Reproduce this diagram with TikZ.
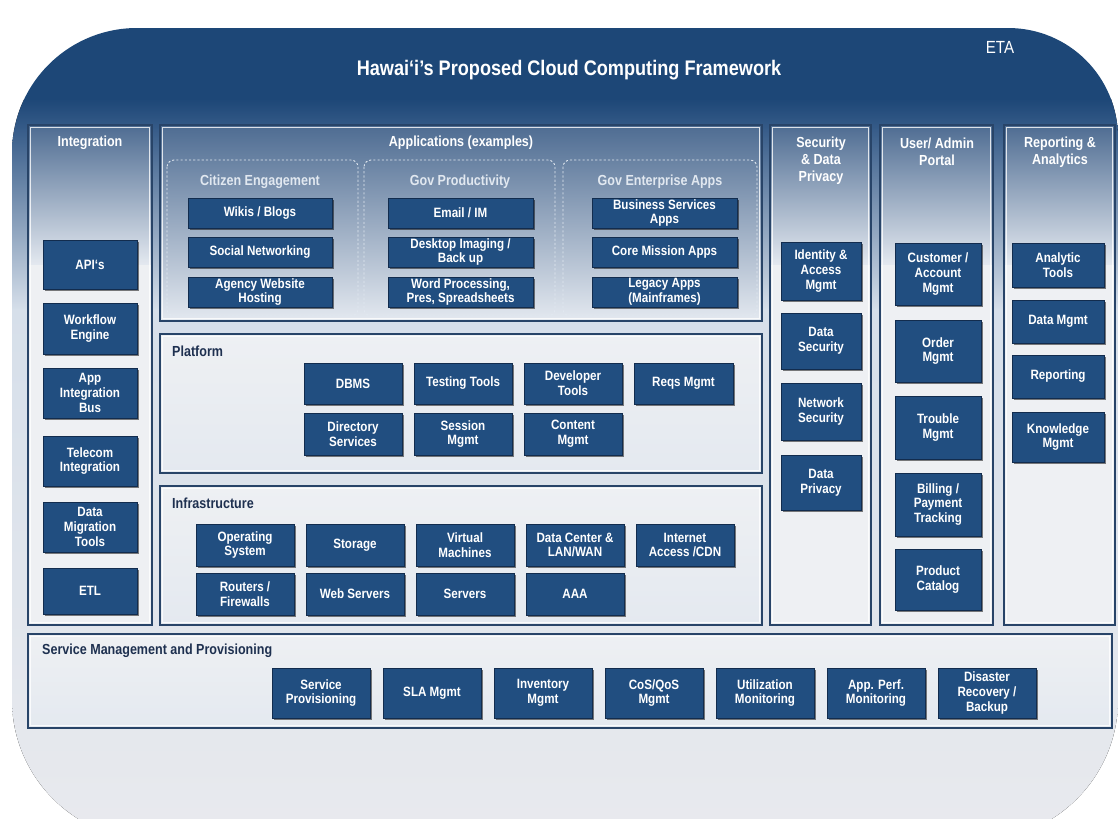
\documentclass[tikz,border=0pt]{standalone}
\usepackage{fontspec}
\setmainfont{Liberation Sans}[FakeStretch=0.86]
\usetikzlibrary{shadows}

\definecolor{boxblue}{RGB}{33,78,128}
\definecolor{boxedge}{RGB}{18,44,78}
\definecolor{boxhi}{RGB}{125,155,195}
\definecolor{headblue}{RGB}{29,71,119}
\definecolor{midblue}{RGB}{55,92,137}
\definecolor{paleblue}{RGB}{214,223,234}
\definecolor{bglight}{RGB}{233,234,238}
\definecolor{paneltop}{RGB}{78,108,146}
\definecolor{panelfade}{RGB}{228,233,240}
\definecolor{panellight}{RGB}{238,240,243}
\definecolor{panelborder}{RGB}{40,68,104}
\definecolor{navytext}{RGB}{30,48,80}
\definecolor{groupline}{RGB}{225,232,240}

\newcommand\boxfont{\fontsize{7.7}{8.4}\selectfont\bfseries}
\newcommand\headfont{\fontsize{8.3}{9.6}\selectfont\bfseries}

\tikzset{
  box/.style={draw=boxedge, line width=0.5pt, fill=boxblue, inner sep=0pt,
    text=white, align=center, font=\boxfont,
    drop shadow={shadow xshift=0.9pt, shadow yshift=-0.9pt, opacity=0.5, fill=black},
    path picture={\draw[boxhi, line width=0.9pt]
      (path picture bounding box.north west) -- (path picture bounding box.north east);}},
  lighthead/.style={text=white, font=\headfont, align=center},
  grouphead/.style={text=groupline, font=\headfont, align=center},
  darkhead/.style={text=navytext, font=\headfont, anchor=west},
  groupframe/.style={draw=groupline, line width=0.5pt, dash pattern=on 1.2pt off 1.2pt,
    rounded corners=4pt},
  paneledge/.style={draw=panelborder, line width=1.3pt},
  panelinner/.style={draw=white, line width=0.5pt, opacity=0.8}
}

% box: name, x1, y1, x2, y2, text
\newcommand\bx[6]{\node[box, minimum width={(#4-#2)*0.02cm}, minimum height={(#5-#3)*0.02cm}]
  (#1) at ({(#2+#4)/2},{(#3+#5)/2}) {#6};}
% panel: x1, y1, x2, y2, end of the top fade, top colour
\newcommand\panel[6]{%
  \fill[top color=#6, bottom color=panelfade] (#1,#2) rectangle (#3,#5);
  \fill[panellight] (#1,#5) rectangle (#3,#4);
  \draw[panelinner] (#1+2.8,#2+2.8) rectangle (#3-2.8,#4-2.8);
  \draw[paneledge] (#1,#2) rectangle (#3,#4);}

\begin{document}
\begin{tikzpicture}[x=0.02cm, y=-0.02cm]
\useasboundingbox (0,0) rectangle (1118,818);
\fill[white] (0,0) rectangle (1118,818);

% rounded backdrop, dark header fading to light grey
\begin{scope}
  \clip (12,153) .. controls (12,84) and (68,28) .. (137,28) -- (1008,28)
    .. controls (1069,28) and (1118,77) .. (1118,138) -- (1118,700)
    .. controls (1118,777) and (1055,840) .. (978,840) -- (152,840)
    .. controls (75,840) and (12,777) .. (12,700) -- cycle;
  \fill[headblue] (0,20) rectangle (1118,100);
  \fill[top color=headblue, bottom color=midblue] (0,99) rectangle (1118,130);
  \fill[top color=midblue, bottom color=paleblue] (0,129) rectangle (1118,310);
  \fill[top color=paleblue, bottom color=bglight] (0,309) rectangle (1118,850);
\end{scope}

\node[text=white, font=\fontsize{12}{14}\selectfont\bfseries] (title) at (569,70)
  {Hawai‘i’s Proposed Cloud Computing Framework};
\node[text=white, font=\fontsize{10}{12}\selectfont] (eta) at (1000,47) {ETA};

% panels
\panel{28}{125}{152}{625}{265}{paneltop}
\panel{160}{125}{762}{321}{321}{paneltop}
\panel{160}{334}{762}{473}{473}{panellight}
\panel{160}{486}{762}{625}{625}{panellight}
\panel{770}{125}{871}{625}{265}{paneltop}
\panel{880}{125}{993}{625}{265}{paneltop}
\panel{1004}{125}{1115}{625}{265}{paneltop}
\panel{28}{634}{1112}{728}{728}{panellight}

% panel headings
\node[lighthead] (hint) at (90,143) {Integration};
\node[lighthead] (happ) at (461,143) {Applications (examples)};
\node[lighthead] (hsec) at (821,161) {Security\\\& Data\\Privacy};
\node[lighthead] (husr) at (937,152) {User/ Admin\\Portal};
\node[lighthead] (hrep) at (1060,152) {Reporting \&\\Analytics};
\node[darkhead] (hplat) at (166,351) {Platform};
\node[darkhead] (hinf) at (166,503) {Infrastructure};
\node[darkhead] (hsvc) at (36,651) {Service Management and Provisioning};

% application groups
\draw[groupframe] (167,160) rectangle (358,316);
\draw[groupframe] (364,160) rectangle (555,316);
\draw[groupframe] (563,160) rectangle (757,316);
\node[grouphead] (gcit) at (260,182) {Citizen Engagement};
\node[grouphead] (gprod) at (460,182) {Gov Productivity};
\node[grouphead] (gent) at (660,182) {Gov Enterprise Apps};

\bx{wiki}{188}{198}{332}{228}{Wikis / Blogs}
\bx{social}{188}{237}{332}{267}{Social Networking}
\bx{agency}{188}{277}{332}{307}{Agency Website\\Hosting}
\bx{email}{388}{198}{533}{228}{Email / IM}
\bx{desktop}{388}{237}{533}{267}{Desktop Imaging /\\Back up}
\bx{word}{388}{277}{533}{307}{Word Processing,\\Pres, Spreadsheets}
\bx{business}{592}{198}{737}{228}{Business Services\\Apps}
\bx{core}{592}{237}{737}{267}{Core Mission  Apps}
\bx{legacy}{592}{277}{737}{307}{Legacy Apps\\(Mainframes)}

% integration
\bx{api}{43}{240}{137}{289}{API`s}
\bx{workflow}{43}{303}{137}{354}{Workflow\\Engine}
\bx{bus}{43}{368}{137}{418}{App\\Integration\\Bus}
\bx{telecom}{43}{436}{137}{486}{Telecom\\Integration}
\bx{migration}{43}{502}{137}{552}{Data\\Migration\\Tools}
\bx{etl}{43}{568}{137}{614}{ETL}

% platform
\bx{dbms}{304}{363}{402}{404}{DBMS}
\bx{testing}{414}{363}{512}{404}{Testing Tools}
\bx{devtools}{524}{363}{622}{404}{Developer\\Tools}
\bx{reqs}{634}{363}{733}{404}{Reqs Mgmt}
\bx{directory}{304}{413}{402}{455}{Directory\\Services}
\bx{session}{414}{413}{512}{455}{Session\\Mgmt}
\bx{content}{524}{413}{622}{455}{Content\\Mgmt}

% infrastructure
\bx{os}{196}{524}{294}{566}{Operating\\System}
\bx{storage}{306}{524}{404}{566}{Storage}
\bx{vm}{416}{524}{514}{566}{Virtual\\Machines}
\bx{datacenter}{526}{524}{624}{566}{Data Center \&\\LAN/WAN}
\bx{internet}{636}{524}{734}{566}{Internet\\Access /CDN}
\bx{routers}{196}{573}{294}{615}{Routers /\\Firewalls}
\bx{web}{306}{573}{404}{615}{Web Servers}
\bx{servers}{416}{573}{514}{615}{Servers}
\bx{aaa}{526}{573}{624}{615}{AAA}

% security
\bx{identity}{781}{242}{861}{300}{Identity \&\\Access\\Mgmt}
\bx{datasec}{781}{313}{861}{369}{Data\\Security}
\bx{netsec}{781}{383}{861}{440}{Network\\Security}
\bx{privacy}{781}{455}{861}{510}{Data\\Privacy}

% user / admin portal
\bx{customer}{895}{243}{981}{305}{Customer /\\Account\\Mgmt}
\bx{order}{895}{320}{981}{382}{Order\\Mgmt}
\bx{trouble}{895}{396}{981}{459}{Trouble\\Mgmt}
\bx{billing}{895}{473}{981}{536}{Billing /\\Payment\\Tracking}
\bx{catalog}{895}{549}{981}{610}{Product\\Catalog}

% reporting
\bx{analytic}{1012}{243}{1104}{287}{Analytic\\Tools}
\bx{datamgmt}{1012}{300}{1104}{343}{Data Mgmt}
\bx{reporting}{1012}{355}{1104}{398}{Reporting}
\bx{knowledge}{1012}{412}{1104}{462}{Knowledge\\Mgmt}

% service management
\bx{provision}{272}{668}{370}{718}{Service\\Provisioning}
\bx{sla}{383}{668}{481}{718}{SLA Mgmt}
\bx{inventory}{494}{668}{592}{718}{Inventory\\Mgmt}
\bx{cos}{605}{668}{703}{718}{CoS/QoS\\Mgmt}
\bx{util}{716}{668}{814}{718}{Utilization\\Monitoring}
\bx{appperf}{827}{668}{925}{718}{App. Perf.\\Monitoring}
\bx{disaster}{938}{668}{1036}{718}{Disaster\\Recovery /\\Backup}
\end{tikzpicture}
\end{document}
